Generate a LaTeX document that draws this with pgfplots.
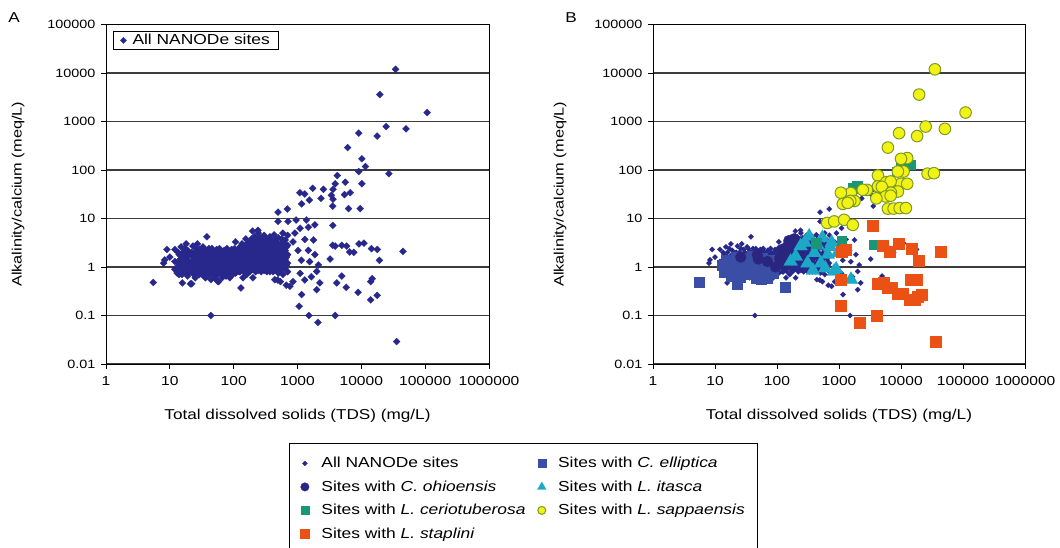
\documentclass[border=0pt]{standalone}
\usepackage{fontspec}
\setmainfont{Liberation Sans}[FakeStretch=1.2]
\usepackage{pgfplots}
\usepackage{pgfplotstable}
\pgfplotsset{compat=1.18}
\definecolor{navy}{RGB}{40,40,140}
\definecolor{ellblue}{RGB}{58,78,165}
\definecolor{ohio}{RGB}{42,38,128}
\definecolor{itasca}{RGB}{28,168,198}
\definecolor{cerio}{RGB}{25,150,118}
\definecolor{sapfill}{RGB}{242,242,20}
\definecolor{sapedge}{RGB}{125,155,35}
\definecolor{stap}{RGB}{235,80,20}
\definecolor{gridc}{RGB}{60,60,60}

\pgfplotstableread{
x y
8 1.2
8.3 1.4
9 2.3
10 1.6
12 2.3
12 1.3
12 0.9
13 1.0
13 0.75
14 1.8
14 1.2
14 0.7
15 2.6
15 1.5
15 1.0
16 1.3
16 0.85
16 2.0
18 3.0
18 1.7
18 1.1
18 0.8
19 2.2
19 1.4
19 0.65
21 1.9
21 1.2
21 0.9
21 0.45
23 2.7
23 1.6
23 1.05
23 0.75
25 2.0
25 1.3
25 0.9
25 0.6
27 3.0
27 1.7
27 1.15
27 0.8
29 2.3
29 1.45
29 1.0
29 0.7
31 1.9
31 1.25
31 0.85
33 2.6
33 1.6
33 1.1
33 0.75
36 2.1
36 1.35
36 0.95
36 0.6
38 4.2
38 1.8
38 1.2
38 0.8
41 2.4
41 1.5
41 1.0
41 0.7
44 1.9
44 1.25
44 0.85
44 0.55
44 0.1
47 2.2
47 1.55
47 1.05
47 0.75
50 1.8
50 1.3
50 0.9
50 0.6
54 2.3
54 1.45
54 1.0
54 0.7
58 1.9
58 1.2
58 0.85
58 0.5
62 2.1
62 1.5
62 1.05
62 0.75
66 1.7
66 1.25
66 0.9
66 0.6
71 2.2
71 1.4
71 1.0
71 0.7
76 1.8
76 1.2
76 0.85
76 0.65
81 2.0
81 1.45
81 1.05
87 1.6
87 1.15
87 0.8
87 0.6
93 2.3
93 1.5
93 1.0
93 0.7
100 1.9
100 1.3
100 0.9
107 3.3
107 2.1
107 1.45
107 1.05
107 0.75
114 1.7
114 1.2
114 0.85
122 2.4
122 1.6
122 1.1
122 0.8
130 0.37
130 2.0
130 1.35
130 0.95
140 2.7
140 1.8
140 1.25
140 0.9
140 0.6
150 2.2
150 1.5
150 1.05
160 3.0
160 1.9
160 1.3
160 0.95
160 0.7
172 2.5
172 1.65
172 1.15
172 0.85
185 3.4
185 2.1
185 1.4
185 1.0
198 5.5
198 2.7
198 1.8
198 1.25
198 0.9
200 0.6
212 4.2
212 2.3
212 1.55
212 1.1
227 3.5
227 2.0
227 1.35
227 0.95
243 5.0
243 2.8
243 1.8
243 1.2
243 0.85
260 4.0
260 2.4
260 1.6
260 1.05
280 3.3
280 2.1
280 1.4
280 0.9
300 4.5
300 2.7
300 1.8
300 1.2
300 0.85
320 3.8
320 2.3
320 1.55
320 1.05
345 3.1
345 2.0
345 1.35
345 0.95
370 4.2
370 2.6
370 1.7
370 1.15
370 0.8
400 3.5
400 2.2
400 1.5
400 1.0
440 0.55
430 4.6
430 2.9
430 1.85
430 1.2
430 0.85
465 3.2
465 2.0
465 1.35
465 0.9
500 4.0
500 2.5
500 1.6
500 1.05
500 0.75
540 3.0
540 1.9
540 1.25
540 0.85
540 0.5
590 5.0
590 2.6
590 1.7
590 1.1
590 0.7
640 3.6
640 2.2
640 1.4
640 0.95
670 0.42
700 4.5
700 2.8
700 1.8
700 1.2
700 0.8
13.5 2.0
13.5 1.3
13.5 0.85
15.5 1.6
15.5 1.05
15.5 0.7
17 2.4
17 1.45
17 0.95
20 1.8
20 1.15
20 0.78
22 2.0
22 1.3
22 0.85
24 1.6
24 1.05
24 0.7
26 2.4
26 1.45
26 0.95
28 1.8
28 1.15
28 0.78
30 2.0
30 1.3
30 0.85
32 1.6
32 1.05
32 0.7
34.5 2.4
34.5 1.45
34.5 0.95
37 1.8
37 1.15
37 0.78
39.5 2.0
39.5 1.3
39.5 0.85
42.5 1.6
42.5 1.05
42.5 0.7
45.5 2.4
45.5 1.45
45.5 0.95
48.5 1.8
48.5 1.15
48.5 0.78
52 2.0
52 1.3
52 0.85
56 1.6
56 1.05
56 0.7
60 2.4
60 1.45
60 0.95
64 1.8
64 1.15
64 0.78
68.5 2.0
68.5 1.3
68.5 0.85
73.5 1.6
73.5 1.05
73.5 0.7
78.5 2.4
78.5 1.45
78.5 0.95
84 1.8
84 1.15
84 0.78
90 2.0
90 1.3
90 0.85
96.5 1.6
96.5 1.05
96.5 0.7
103 2.4
103 1.45
103 0.95
110 1.8
110 1.15
110 0.78
118 2.0
118 1.3
118 0.85
126 2.6
126 1.6
126 1.1
126 0.8
135 3.0
135 1.9
135 1.3
135 0.95
145 2.6
145 1.6
145 1.1
145 0.8
155 3.8
155 2.3
155 1.5
155 1.0
166 3.0
166 1.9
166 1.3
166 0.95
178 2.6
178 1.6
178 1.1
178 0.8
191 3.8
191 2.3
191 1.5
191 1.0
205 3.0
205 1.9
205 1.3
205 0.95
220 2.6
220 1.6
220 1.1
220 0.8
235 3.8
235 2.3
235 1.5
235 1.0
251 3.0
251 1.9
251 1.3
251 0.95
270 2.6
270 1.6
270 1.1
270 0.8
290 3.8
290 2.3
290 1.5
290 1.0
310 3.0
310 1.9
310 1.3
310 0.95
332 2.6
332 1.6
332 1.1
332 0.8
357 3.8
357 2.3
357 1.5
357 1.0
385 3.0
385 1.9
385 1.3
385 0.95
415 2.6
415 1.6
415 1.1
415 0.8
447 3.8
447 2.3
447 1.5
447 1.0
482 3.0
482 1.9
482 1.3
482 0.95
520 2.6
520 1.6
520 1.1
520 0.8
565 3.8
565 2.3
565 1.5
565 1.0
615 3.0
615 1.9
615 1.3
615 0.95
670 2.6
670 1.6
670 1.1
5.5 0.48
15.7 0.47
22 0.45
56 0.51
240 5.7
495 13.5
695 15.7
495 8.7
710 8.7
950 9.3
1380 9.3
1100 6.3
1480 6.6
1870 7.4
910 5.0
1300 3.7
1780 3.6
850 3.3
1020 2.2
1480 2.2
1870 1.8
2120 1.1
2000 0.81
1650 0.63
1300 0.54
1100 0.74
850 0.5
760 0.4
490 0.54
1150 1.38
1550 1.29
1060 0.155
1160 0.27
1510 0.1
2090 0.072
2000 0.34
2240 0.47
3900 0.1
4130 0.47
4950 0.65
5800 0.38
8900 0.30
14000 0.21
14000 0.5
14800 0.575
17700 0.26
35700 0.029
3570 7.2
3900 2.7
5900 2.7
7600 2.0
11000 3.1
17800 2.3
19200 1.37
45000 2.1
3240 1.46
14400 2.39
9200 3.0
6550 2.04
4950 2.8
3550 2.8
1160 20
1530 24
2330 26
1090 34
1300 32
1730 42
2550 40
3600 40
3400 30
3600 25
3570 18
6300 16
9600 16
5450 31
6700 34
3900 52
5600 56
4200 77
10200 52
27000 84
9100 93
11600 118
10200 170
6100 290
9100 575
17700 500
24500 787
50200 705
107600 1530
19500 3590
34400 11900
}\allsites

\pgfplotstableread{
x y
5.6 0.48
23 0.45
135 0.38
13 1.1
14 0.8
15 1.4
17 1.0
18 0.65
19 1.25
21 0.85
22 1.6
24 1.05
25 0.62
27 1.3
29 0.8
31 1.5
33 1.0
36 0.7
38 1.25
40 1.7
43 0.9
46 0.6
48 1.35
52 1.0
55 0.55
58 1.5
62 0.8
66 1.2
70 0.6
75 0.95
80 1.4
86 0.75
92 1.1
}\elliptica

\pgfplotstableread{
x y
26 1.6
50 1.46
48 1.8
70 1.3
95 1.0
110 1.5
120 2.3
130 1.1
150 2.0
155 3.5
170 1.4
188 3.8
210 2.6
230 1.8
250 3.0
}\ohioensis

\pgfplotstableread{
x y
166 1.3
200 1.66
240 2.7
280 3.2
310 1.2
330 4.3
380 0.85
400 1.96
450 2.8
510 1.2
540 4.0
600 0.95
660 1.8
720 2.6
760 3.2
830 0.81
900 0.9
950 1.96
1560 0.55
}\itasca

\pgfplotstableread{
x y
424 3.1
1100 3.5
3600 2.9
1660 42
1960 46
5200 30
6900 34
8700 93
10100 126
14000 130
}\cerio

\pgfplotstableread{
x y
35200 11900
19600 3590
110000 1530
25000 787
18200 500
51000 705
9300 575
6150 290
12600 176
10000 170
11000 93
8900 93
26800 84
34000 86
10000 52
12600 52
4250 77
5800 56
6800 58
4250 46
4900 45
8900 36
6900 34
2830 39
2420 39
1550 33.5
1070 34
5650 28.5
4000 26
6800 29.5
1780 23
1520 23
1150 20
1380 21
6150 16
7600 16
9500 16.4
12000 16.4
645 8.1
835 8.7
1210 9.4
1670 7.4
}\sappaensis

\pgfplotstableread{
x y
3500 7.1
5000 2.7
6500 2.04
9300 3.0
14700 2.4
19400 1.36
44000 2.1
1120 2.1
1300 2.3
1070 0.55
4250 0.46
5200 0.47
6150 0.37
6960 0.37
8900 0.28
10700 0.28
14100 0.55
17700 0.55
13700 0.21
16600 0.21
18800 0.25
21300 0.27
1070 0.16
2130 0.071
4100 0.10
35900 0.0295
}\staplini

\newcommand{\yticksize}{\fontsize{12}{12}\selectfont}
\newcommand{\xticksize}{\fontsize{13}{13}\selectfont}
\newcommand{\xlabsize}{\fontsize{14.3}{14.3}\selectfont}
\newcommand{\ylabsize}{\fontsize{13.6}{13.6}\selectfont}
\newcommand{\legsize}{\fontsize{14.5}{14.5}\selectfont}
\pgfplotsset{
  every axis/.append style={
    scale only axis, height=339.5pt,
    xmin=1, xmax=1000000, ymin=0.01, ymax=100000,
    xtick={1,10,100,1000,10000,100000,1000000},
    xticklabels={1,10,100,1000,10000,100000,1000000},
    ytick={0.01,0.1,1,10,100,1000,10000,100000},
    yticklabels={0.01,0.1,1,10,100,1000,10000,100000},
    xminorticks=false, yminorticks=false,
    ymajorgrids, major grid style={line width=1.1pt, color=gridc},
    tick align=outside, major tick length=5pt,
    xtick pos=left, ytick pos=left,
    tick style={black, line width=0.8pt},
    axis line style={line width=0.9pt, black},
    xticklabel style={font=\xticksize, yshift=-4pt},
    yticklabel style={font=\yticksize, xshift=-2pt},
    xlabel style={font=\xlabsize, at={(axis description cs:0.5,-0.152)}, anchor=center},
    ylabel style={font=\ylabsize},
    legend cell align=left,
  },
}

\begin{document}
\begin{tikzpicture}[x=1pt,y=1pt]
\path[use as bounding box] (0,0) rectangle (1060,548);
\node[font=\xlabsize] at (14,530) {A};
\node[font=\xlabsize] at (571,530) {B};

\begin{loglogaxis}[at={(106pt,184pt)}, anchor=south west, width=383pt,
  xlabel={Total dissolved solids (TDS) (mg/L)},
  ylabel={Alkalinity/calcium (meq/L)},
  ylabel style={at={(axis description cs:-0.2298,0.5)}, anchor=center},
  legend style={at={(axis description cs:0.018,0.981)}, anchor=north west,
    draw=black, line width=0.8pt, inner xsep=7pt, inner ysep=1pt,
    font=\legsize, nodes={inner sep=2pt},
    /tikz/every odd column/.append style={column sep=4pt}},
]
\addplot[only marks, mark=square*, mark size=2.5pt, mark options={rotate=45, fill=navy, draw=navy, line width=0.2pt},
  legend image post style={mark size=2.2pt}] table {\allsites};
\addlegendentry{All NANODe sites}
\end{loglogaxis}

\begin{loglogaxis}[at={(653pt,184pt)}, anchor=south west, width=372pt,
  xlabel={Total dissolved solids (TDS) (mg/L)},
  ylabel={Alkalinity/calcium (meq/L)},
  ylabel style={at={(axis description cs:-0.25,0.5)}, anchor=center},
  legend columns=2,
  legend style={at={(axis description cs:-0.9785,-0.2327)}, anchor=north west,
    draw=black, line width=0.8pt, inner xsep=11pt, inner ysep=12pt,
    font=\legsize, nodes={inner sep=2pt}, row sep=7.5pt,
    /tikz/every odd column/.append style={column sep=10pt},
    /tikz/every even column/.append style={column sep=10pt}},
]
\addplot[only marks, mark=square*, mark size=1.9pt, mark options={rotate=45, fill=navy, draw=navy, line width=0.2pt},
  legend image post style={mark size=1.8pt}] table {\allsites};
\addlegendentry{All NANODe sites}
\addplot[only marks, mark=square*, mark size=5pt, mark options={fill=ellblue, draw=ellblue, line width=0.2pt},
  legend image post style={mark size=4pt}] table {\elliptica};
\addlegendentry{Sites with \textit{C. elliptica}}
\addplot[only marks, mark=*, mark size=5.5pt, mark options={fill=ohio, draw=ohio, line width=0.2pt},
  legend image post style={mark size=4.3pt}] table {\ohioensis};
\addlegendentry{Sites with \textit{C. ohioensis}}
\addplot[only marks, mark=triangle*, mark size=8pt, mark options={fill=itasca, draw=itasca, line width=0.2pt},
  legend image post style={mark size=5pt}] table {\itasca};
\addlegendentry{Sites with \textit{L. itasca}}
\addplot[only marks, mark=square*, mark size=4.8pt, mark options={fill=cerio, draw=cerio, line width=0.2pt},
  legend image post style={mark size=4pt}] table {\cerio};
\addlegendentry{Sites with \textit{L. ceriotuberosa}}
\addplot[only marks, mark=*, mark size=5.8pt, mark options={fill=sapfill, draw=sapedge, line width=1pt},
  legend image post style={mark size=4pt}] table {\sappaensis};
\addlegendentry{Sites with \textit{L. sappaensis}}
\addplot[only marks, mark=square*, mark size=5.5pt, mark options={fill=stap, draw=stap, line width=0.2pt},
  legend image post style={mark size=4.5pt}] table {\staplini};
\addlegendentry{Sites with \textit{L. staplini}}
\end{loglogaxis}
\end{tikzpicture}
\end{document}
